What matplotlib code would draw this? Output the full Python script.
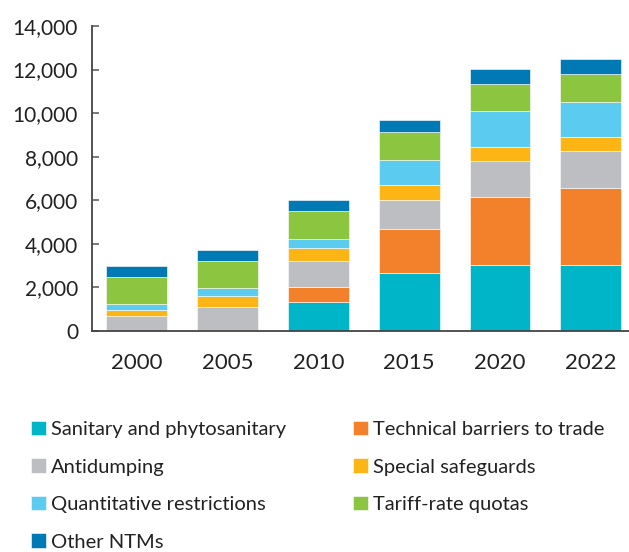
import numpy as np
import matplotlib.pyplot as plt
from matplotlib.ticker import FuncFormatter

plt.rcParams['font.family'] = ['Lato', 'DejaVu Sans']

years = ['2000', '2005', '2010', '2015', '2020', '2022']
labels = ['Sanitary and phytosanitary', 'Technical barriers to trade', 'Antidumping',
          'Special safeguards', 'Quantitative restrictions', 'Tariff-rate quotas', 'Other NTMs']
sps = [10, 10, 1330, 2680, 3020, 3020]
tbt = [10, 50, 680, 2020, 3130, 3560]
antidumping = [680, 1020, 1180, 1330, 1650, 1670]
safeguards = [260, 540, 640, 660, 660, 640]
quant = [300, 335, 410, 1150, 1620, 1610]
trq = [1240, 1270, 1270, 1290, 1270, 1300]
other = [500, 500, 520, 560, 690, 690]
colors = ['#00B5C8', '#F3802B', '#BDBEC1', '#FDB515', '#5BCBEF', '#8CC540', '#0079B5']

series = [sps, tbt, antidumping, safeguards, quant, trq, other]

fig = plt.figure(figsize=(6.29, 5.52), dpi=100)
ax = fig.add_axes([0.1463, 0.4004, 0.8537, 0.5525])

x = np.arange(len(years))
bottom = np.zeros(len(years))
handles = []
for vals, c, lab in zip(series, colors, labels):
    b = ax.bar(x, vals, width=0.67, bottom=bottom, color=c, edgecolor='white',
               linewidth=0.4, label=lab)
    handles.append(b)
    bottom += np.array(vals)

ax.set_xlim(-0.49, 5.42)
ax.set_ylim(0, 14000)
ax.set_yticks(np.arange(0, 14001, 2000))
ax.yaxis.set_major_formatter(FuncFormatter(lambda v, p: f'{int(v):,}'))
ax.set_xticks(x)
ax.set_xticklabels(years)

for s in ['top', 'right']:
    ax.spines[s].set_visible(False)
for s in ['left', 'bottom']:
    ax.spines[s].set_color('#444444')
    ax.spines[s].set_linewidth(1.3)
ax.tick_params(axis='y', direction='in', length=5, width=1.1, color='#555555',
               labelsize=15, labelcolor='#222222', pad=10)
ax.tick_params(axis='x', length=0, labelsize=16, labelcolor='#222222', pad=16)

order = [0, 2, 4, 6, 1, 3, 5]
fig.legend([handles[i] for i in order], [labels[i] for i in order],
           loc='upper left', bbox_to_anchor=(0.049, 0.238), ncol=2, frameon=False,
           fontsize=14.5, handlelength=0.75, handleheight=0.75, handletextpad=0.25,
           columnspacing=3.3, labelspacing=1.0, borderpad=0, borderaxespad=0,
           labelcolor='#222222')

fig.savefig('out.png', dpi=100)
